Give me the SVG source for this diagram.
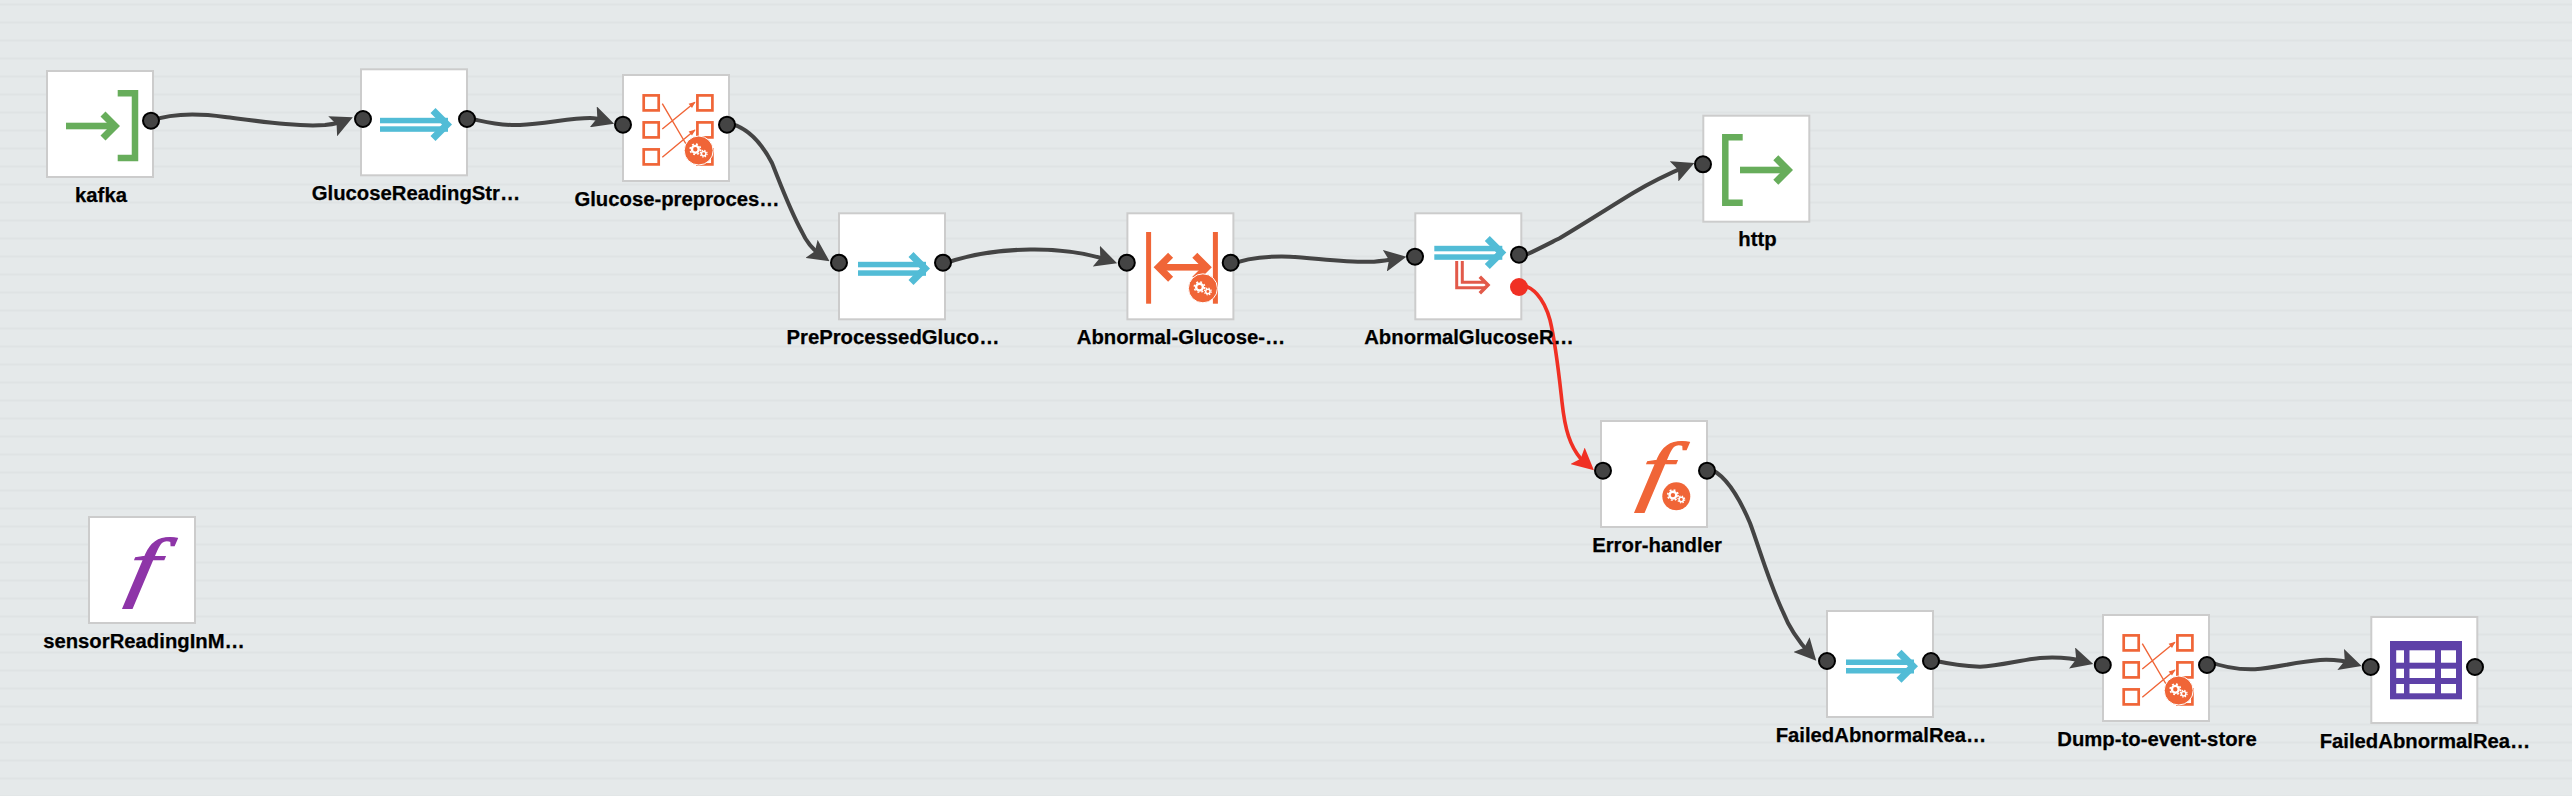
<svg xmlns="http://www.w3.org/2000/svg" xmlns:xlink="http://www.w3.org/1999/xlink" width="2572" height="796" viewBox="0 0 2572 796">
<style>
.box{fill:#fff;stroke:#ccc;stroke-width:2}
.port{fill:#444;stroke:#000;stroke-width:2}
.err{fill:#f03024}
.lbl{font-family:"Liberation Sans",Arial,sans-serif;font-weight:700;font-size:20.3px;fill:#000;stroke:#000;stroke-width:.25;text-anchor:middle}
.con{fill:none;stroke:#444;stroke-width:4}
.conr{fill:none;stroke:#f03024;stroke-width:3.6}
.fn{font-family:"Liberation Serif","Times New Roman",serif;font-style:italic;font-size:84px;text-anchor:middle;stroke-width:1.3}
.g{fill:#67ad5b}.b{fill:#52bcd6}.o{fill:#f06537}
.sq{fill:#fff;stroke:#f06537;stroke-width:2.7}
.thin{fill:none;stroke:#f06537;stroke-width:1.4}
</style>
<defs>
<pattern id="bg" width="18" height="18" patternUnits="userSpaceOnUse"><rect width="18" height="18" fill="#e5e9ea"/><rect y="3.6" width="18" height="1.8" fill="#dfe3e4"/></pattern>
<marker id="ah" markerUnits="userSpaceOnUse" markerWidth="22" markerHeight="22" viewBox="0 0 18 18" refX="11" refY="9" orient="auto"><path d="M0 0L18 9L0 18L3.500 9Z" fill="#444"/></marker>
<marker id="ahr" markerUnits="userSpaceOnUse" markerWidth="22" markerHeight="22" viewBox="0 0 18 18" refX="11" refY="9" orient="auto"><path d="M0 0L18 9L0 18L3.500 9Z" fill="#f03024"/></marker>
<g id="gears">
<circle cx="-3.400" cy="-1.200" r="3.400" fill="none" stroke="#fff" stroke-width="2.400"/>
<circle cx="-3.400" cy="-1.200" r="5.200" fill="none" stroke="#fff" stroke-width="1.600" stroke-dasharray="1.900 2.200"/>
<circle cx="5" cy="3.200" r="2.200" fill="none" stroke="#fff" stroke-width="1.500"/>
<circle cx="5" cy="3.200" r="3.400" fill="none" stroke="#fff" stroke-width="1.200" stroke-dasharray="1.300 1.400"/>
</g>
<g id="stream">
<rect class="b" x="20" y="49.500" width="68" height="5.500"/><rect class="b" x="20" y="58" width="68" height="5.500"/>
<path class="b" d="M92 56.300L75.500 72.800L70.500 67.800L82 56.300L70.500 44.800L75.500 39.800Z"/>
</g>
<g id="transform">
<rect class="sq" x="21.700" y="21.400" width="15" height="15"/><rect class="sq" x="21.700" y="48.400" width="15" height="15"/><rect class="sq" x="21.700" y="75.400" width="15" height="15"/>
<rect class="sq" x="75.400" y="21.400" width="15" height="15"/><rect class="sq" x="75.400" y="48.400" width="15" height="15"/><rect class="sq" x="75.400" y="75.400" width="15" height="15"/>
<path class="thin" d="M40.300 29.700L64 70M40.300 55L73 28.300M40.300 83.300L73 56"/>
<path class="o" d="M73.500 27.800L66.600 29.800L70 33.900ZM73.500 55.500L66.600 57.500L70 61.600Z"/>
<circle class="o" cx="76.700" cy="76.500" r="14.500" stroke="#fff" stroke-width="1"/>
<use href="#gears" x="76.700" y="76.500"/>
</g>
</defs>
<rect width="2572" height="796" fill="url(#bg)"/>
<g id="connectors">
<path class="con" marker-end="url(#ah)" d="M151 121C172 113 196 113 225 117C265 122 300 127 325 125C333 124 340 123 345 120.800"/>
<path class="con" marker-end="url(#ah)" d="M467 118C480 120 495 126 520 125C545 124 570 118 590 118C595 118 600 119 606 121"/>
<path class="con" marker-end="url(#ah)" d="M727 123C745 126 760 140 772 163C782 188 790 210 802 232C806 241 813 250 822.500 256.500"/>
<path class="con" marker-end="url(#ah)" d="M943 264C965 256 995 250 1030 249.500C1065 249 1090 254 1109 260.500"/>
<path class="con" marker-end="url(#ah)" d="M1231 265C1245 258 1265 256 1290 256.700C1315 258 1350 263 1374 261.700C1383 261 1390 259.800 1398 258.300"/>
<path class="con" marker-end="url(#ah)" d="M1519 258C1535 251 1550 243 1560 238C1590 220 1610 207 1633 193C1650 183 1668 174 1686.500 166.200"/>
<path class="conr" marker-end="url(#ahr)" d="M1519 285C1532 285 1544 298 1550 320C1556 345 1559 375 1562 402C1565 430 1570 446 1581 459C1583 461 1585 462.500 1587.500 464.700"/>
<path class="con" marker-end="url(#ah)" d="M1707 468C1722 472 1736 490 1750 523C1760 550 1768 580 1783 612C1790 630 1800 643 1810.500 654.500"/>
<path class="con" marker-end="url(#ah)" d="M1931 660C1945 663 1960 666 1980 666.700C2000 666 2020 660 2040 658C2055 657 2072 658 2085 661.700"/>
<path class="con" marker-end="url(#ah)" d="M2207 661C2220 666 2235 670 2255 669.300C2275 668 2295 662 2320 660C2332 659.500 2344 660.500 2353.500 663.500"/>
</g>
<g id="kafka" transform="translate(46,70)"><rect class="box" x="1" y="1" width="106" height="106"/>
<rect class="g" x="20" y="52.700" width="48" height="6.600"/><path class="g" d="M74 56L59.500 70.500L54.500 65.500L64 56L54.500 46.500L59.500 41.500Z"/>
<path d="M71.700 23.300H89V88H71.700" fill="none" stroke="#67ad5b" stroke-width="6.500"/>
<circle class="port" cx="105" cy="50.700" r="8"/><text class="lbl" x="55" y="131.500">kafka</text></g>
<g id="GlucoseReadingStream" transform="translate(360,68.300)"><rect class="box" x="1" y="1" width="106" height="106"/><use href="#stream"/>
<circle class="port" cx="3" cy="50.700" r="8"/><circle class="port" cx="107" cy="50.700" r="8"/><text class="lbl" x="56" y="131.700">GlucoseReadingStr…</text></g>
<g id="Glucose-preprocessor" transform="translate(622,74)"><rect class="box" x="1" y="1" width="106" height="106"/><use href="#transform"/>
<circle class="port" cx="1" cy="50.700" r="8"/><circle class="port" cx="105" cy="50.700" r="8"/><text class="lbl" x="55" y="132">Glucose-preproces…</text></g>
<g id="PreProcessedGlucose" transform="translate(838,212.300)"><rect class="box" x="1" y="1" width="106" height="106"/><use href="#stream"/>
<circle class="port" cx="1" cy="50.400" r="8"/><circle class="port" cx="105" cy="50.400" r="8"/><text class="lbl" x="55" y="131.700">PreProcessedGluco…</text></g>
<g id="Abnormal-Glucose" transform="translate(1126.400,212.300)"><rect class="box" x="1" y="1" width="106" height="106"/>
<rect class="o" x="19.700" y="19.700" width="5" height="71.700"/><rect class="o" x="86.500" y="19.700" width="5" height="71.700"/>
<rect class="o" x="32" y="51.700" width="48" height="6.600"/>
<path class="o" d="M27.200 55L41.700 40.500L46.700 45.500L37.200 55L46.700 64.500L41.700 69.500Z"/><path class="o" d="M85.400 55L70.900 40.500L65.900 45.500L75.400 55L65.900 64.500L70.900 69.500Z"/>
<circle class="o" cx="76.500" cy="76" r="14.500" stroke="#fff" stroke-width="1"/><use href="#gears" x="76.500" y="76"/>
<circle class="port" cx="0.400" cy="50.400" r="8"/><circle class="port" cx="104.300" cy="50.400" r="8"/><text class="lbl" x="54.600" y="131.700">Abnormal-Glucose-…</text></g>
<g id="AbnormalGlucoseReading" transform="translate(1414.300,212.300)"><rect class="box" x="1" y="1" width="106" height="106"/><use href="#stream" y="-16"/>
<path d="M45.200 48.700V72.700H71" fill="none" stroke="#e25a4a" stroke-width="8.600"/><path d="M45.200 48.700V72.700H72" fill="none" stroke="#fff" stroke-width="2.600"/>
<path d="M65.500 64.500L73.700 72.700L65.500 81" fill="none" stroke="#e25a4a" stroke-width="3.500"/>
<circle class="port" cx="0.700" cy="44.400" r="8"/><circle class="port" cx="104.700" cy="42.400" r="8"/><circle class="err" cx="104.700" cy="74.700" r="9"/><text class="lbl" x="54.700" y="131.700">AbnormalGlucoseR…</text></g>
<g id="http" transform="translate(1702.300,114.700)"><rect class="box" x="1" y="1" width="106" height="106"/>
<path d="M40.400 22.600H23V88H40.400" fill="none" stroke="#67ad5b" stroke-width="6.500"/>
<rect class="g" x="37.700" y="52" width="46" height="6.600"/><path class="g" d="M90.700 55.300L76 70L71 65L80.700 55.300L71 45.500L76 40.500Z"/>
<circle class="port" cx="0.700" cy="49.600" r="8"/><text class="lbl" x="55.200" y="131">http</text></g>
<g id="Error-handler" transform="translate(1600,420)"><rect class="box" x="1" y="1" width="106" height="106"/>
<text class="fn" transform="translate(52,76) skewX(-10) scale(1.3,0.92)" fill="#f06537" stroke="#f06537">f</text>
<circle class="o" cx="76.300" cy="76.300" r="14"/><use href="#gears" x="76.300" y="76.300"/>
<circle class="port" cx="3" cy="50.700" r="8"/><circle class="port" cx="107" cy="50.700" r="8"/><text class="lbl" x="57" y="132">Error-handler</text></g>
<g id="FailedAbnormalReading" transform="translate(1826,610)"><rect class="box" x="1" y="1" width="106" height="106"/><use href="#stream"/>
<circle class="port" cx="1" cy="51" r="8"/><circle class="port" cx="105" cy="51" r="8"/><text class="lbl" x="55" y="132">FailedAbnormalRea…</text></g>
<g id="Dump-to-event-store" transform="translate(2102,614)"><rect class="box" x="1" y="1" width="106" height="106"/><use href="#transform"/>
<circle class="port" cx="0.800" cy="51" r="8"/><circle class="port" cx="105" cy="51" r="8"/><text class="lbl" x="55" y="132">Dump-to-event-store</text></g>
<g id="FailedAbnormalReadingTable" transform="translate(2370.300,616)"><rect class="box" x="1" y="1" width="106" height="106"/>
<rect x="19.700" y="25" width="72" height="58.300" fill="#5e41a8"/>
<g fill="#fff"><rect x="25.900" y="34.300" width="7.800" height="12.400"/><rect x="39.200" y="34.300" width="25.500" height="12.400"/><rect x="70.700" y="34.300" width="15" height="12.400"/>
<rect x="25.900" y="52.700" width="7.800" height="9.300"/><rect x="39.200" y="52.700" width="25.500" height="9.300"/><rect x="70.700" y="52.700" width="15" height="9.300"/>
<rect x="25.900" y="68" width="7.800" height="9.300"/><rect x="39.200" y="68" width="25.500" height="9.300"/><rect x="70.700" y="68" width="15" height="9.300"/></g>
<circle class="port" cx="0.400" cy="51" r="8"/><circle class="port" cx="104.700" cy="51" r="8"/><text class="lbl" x="54.700" y="132">FailedAbnormalRea…</text></g>
<g id="sensorReadingInMemory" transform="translate(88,516)"><rect class="box" x="1" y="1" width="106" height="106"/>
<text class="fn" transform="translate(52,76) skewX(-10) scale(1.3,0.92)" fill="#8e35a8" stroke="#8e35a8">f</text><text class="lbl" x="56" y="132">sensorReadingInM…</text></g>
</svg>
